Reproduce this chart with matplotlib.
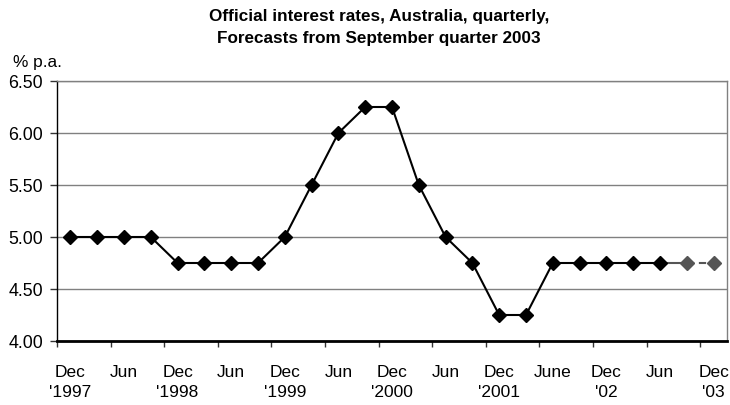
import matplotlib
matplotlib.use("Agg")
import matplotlib.pyplot as plt

plt.rcParams['font.family'] = ['Liberation Sans', 'DejaVu Sans']

quarters = ["Dec97", "Mar98", "Jun98", "Sep98", "Dec98", "Mar99", "Jun99", "Sep99",
            "Dec99", "Mar00", "Jun00", "Sep00", "Dec00", "Mar01", "Jun01", "Sep01",
            "Dec01", "Mar02", "Jun02", "Sep02", "Dec02", "Mar03", "Jun03", "Sep03", "Dec03"]
actual = [5.00, 5.00, 5.00, 5.00, 4.75, 4.75, 4.75, 4.75,
          5.00, 5.50, 6.00, 6.25, 6.25, 5.50, 5.00, 4.75,
          4.25, 4.25, 4.75, 4.75, 4.75, 4.75, 4.75]
forecast_quarters = ["Jun03", "Sep03", "Dec03"]
forecast = [4.75, 4.75, 4.75]
tick_labels = ["Dec\n'1997", "Jun", "Dec\n'1998", "Jun", "Dec\n'1999", "Jun",
               "Dec\n'2000", "Jun", "Dec\n'2001", "June", "Dec\n'02", "Jun", "Dec\n'03"]
y_ticks = [4.00, 4.50, 5.00, 5.50, 6.00, 6.50]

fig = plt.figure(figsize=(7.30, 4.05), dpi=100)
ax = fig.add_axes([57/730, (405-341)/405, (727-57)/730, (341-81)/405])

xa = list(range(len(actual)))
xf = [quarters.index(q) for q in forecast_quarters]

ax.plot(xf[:2], forecast[:2], color='#555555', lw=1.5, zorder=3)
ax.plot(xf[1:], forecast[1:], color='#555555', lw=1.5, ls=(0, (3.5, 2.2)), zorder=3)
ax.plot(xf[1:], forecast[1:], ls='none', marker='D', ms=7.2, color='#555555',
        mec='#555555', zorder=4)
ax.plot(xa, actual, color='black', lw=1.5, marker='D', ms=7.2, mfc='black',
        mec='black', zorder=5)

ax.set_xlim(-0.5, len(quarters) - 0.5)
ax.set_ylim(4.0, 6.5)
ax.set_yticks(y_ticks)
ax.set_yticklabels([f"{v:.2f}" for v in y_ticks], fontsize=12.8)
ax.yaxis.grid(True, color='#808080', lw=1.0)
ax.set_axisbelow(True)

ax.set_xticks([i + 0.5 for i in range(-1, len(quarters), 2)])
ax.set_xticklabels([])
ax.set_xticks(list(range(0, len(quarters), 2)), minor=True)
ax.set_xticklabels(tick_labels, minor=True, fontsize=12.5, linespacing=1.45)
ax.tick_params(axis='x', which='minor', length=0, pad=17)
ax.tick_params(axis='x', which='major', length=4, width=1, color='#333333', direction='out')
ax.tick_params(axis='y', length=5, width=1, color='#333333', direction='out', pad=5)

ax.spines['left'].set_color('black')
ax.spines['left'].set_linewidth(1.0)
ax.spines['bottom'].set_color('black')
ax.spines['bottom'].set_linewidth(2.0)
ax.spines['top'].set_color('#808080')
ax.spines['top'].set_linewidth(1.0)
ax.spines['right'].set_color('#808080')
ax.spines['right'].set_linewidth(1.0)

fig.text(379/730, 1 - 17/405, "Official interest rates, Australia, quarterly,",
         ha='center', va='center', fontsize=12.3, fontweight='bold')
fig.text(379/730, 1 - 38/405, "Forecasts from September quarter 2003",
         ha='center', va='center', fontsize=12.3, fontweight='bold')
fig.text(13/730, 1 - 62/405, "% p.a.", ha='left', va='center', fontsize=12.4)

fig.savefig("out.png", dpi=100)
